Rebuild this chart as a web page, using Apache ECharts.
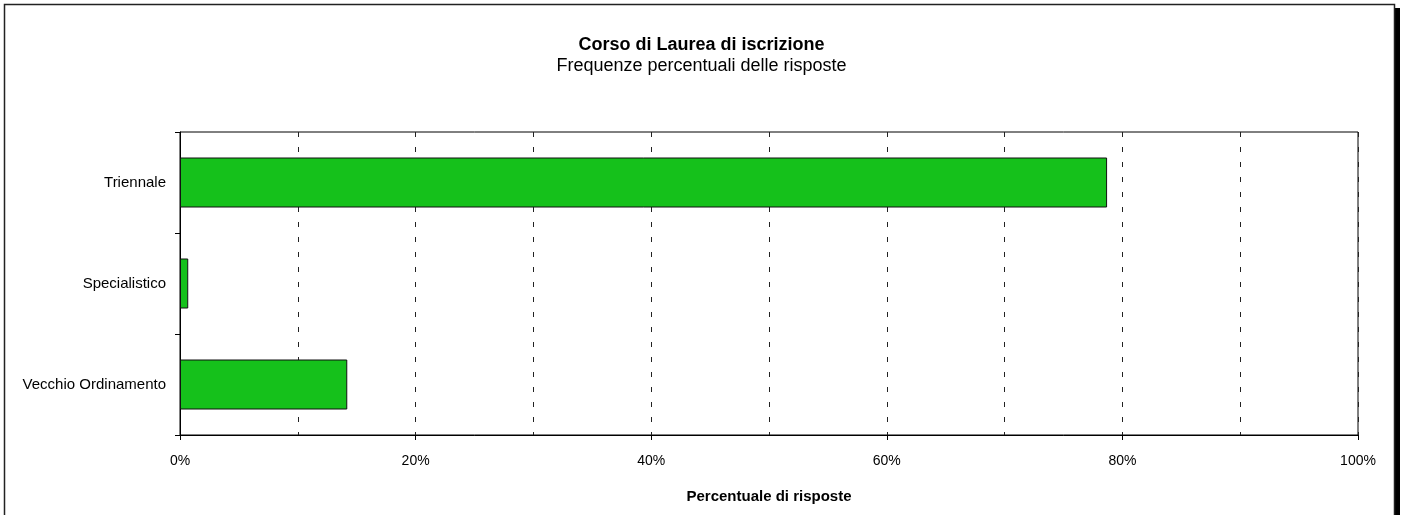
<!DOCTYPE html>
<html>
<head>
<meta charset="utf-8">
<script src="https://cdn.jsdelivr.net/npm/echarts@6/dist/echarts.min.js"></script>
<style>
  html, body { margin: 0; padding: 0; background: #fff; }
  #chart { width: 1403px; height: 515px; }
</style>
</head>
<body>
<div id="chart"></div>
<script>
  // dati
  const categories = ['Triennale', 'Specialistico', 'Vecchio Ordinamento']
  const percentuali = [78.7, 0.7, 14.2]
  const tickLabels = ['0%', '20%', '40%', '60%', '80%', '100%']

  const font = 'Liberation Sans, Arial, Helvetica, sans-serif'
  const myChart = echarts.init(document.getElementById('chart'))

  const option = {
    backgroundColor: '#fff',
    textStyle: { fontFamily: font },
    title: [
      {
        text: 'Corso di Laurea di iscrizione',
        left: 'center',
        top: 31,
        textStyle: { fontFamily: font, fontSize: 18, fontWeight: 'bold', color: '#000' }
      },
      {
        text: 'Frequenze percentuali delle risposte',
        left: 'center',
        top: 52,
        textStyle: { fontFamily: font, fontSize: 18, fontWeight: 'normal', color: '#000' }
      }
    ],
    graphic: [
      {
        type: 'rect',
        shape: { x: 1395, y: 8, width: 5, height: 600 },
        style: { fill: '#000' },
        silent: true
      },
      {
        type: 'rect',
        shape: { x: 4.5, y: 4.5, width: 1390, height: 600 },
        style: { fill: null, stroke: '#222', lineWidth: 1.5 },
        silent: true
      }
    ],
    grid: {
      left: 180,
      right: 45,
      top: 132,
      bottom: 80,
      show: true,
      borderColor: '#000',
      borderWidth: 1,
      containLabel: false
    },
    xAxis: [
      {
        type: 'value',
        min: 0,
        max: 100,
        interval: 20,
        name: 'Percentuale di risposte',
        nameLocation: 'middle',
        nameGap: 54,
        nameTextStyle: { fontFamily: font, fontSize: 15, fontWeight: 'bold', color: '#000' },
        axisLine: { show: true, lineStyle: { color: '#000', width: 1 } },
        axisTick: { show: true, length: 5, lineStyle: { color: '#000' } },
        axisLabel: {
          margin: 19,
          fontFamily: font,
          fontSize: 14,
          color: '#000',
          formatter: (v) => tickLabels[Math.round(v / 20)]
        },
        splitLine: { show: false }
      },
      {
        type: 'value',
        min: 0,
        max: 100,
        interval: 10,
        position: 'bottom',
        axisLine: { show: false },
        axisTick: { show: false },
        axisLabel: { show: false },
        splitLine: {
          show: true,
          lineStyle: { color: '#222', width: 1, type: [5, 10] }
        }
      }
    ],
    yAxis: {
      type: 'category',
      data: categories,
      inverse: true,
      axisLine: { show: true, lineStyle: { color: '#000', width: 1 } },
      axisTick: { show: true, length: 5, lineStyle: { color: '#000' } },
      axisLabel: { margin: 14, fontFamily: font, fontSize: 15, color: '#000' }
    },
    series: [
      {
        name: 'Percentuale',
        type: 'bar',
        xAxisIndex: 0,
        data: percentuali,
        barWidth: 50,
        itemStyle: { color: '#15c11b', borderColor: '#111', borderWidth: 1 },
        silent: true
      }
    ],
    animation: false
  }

  option && myChart.setOption(option)
</script>
</body>
</html>
